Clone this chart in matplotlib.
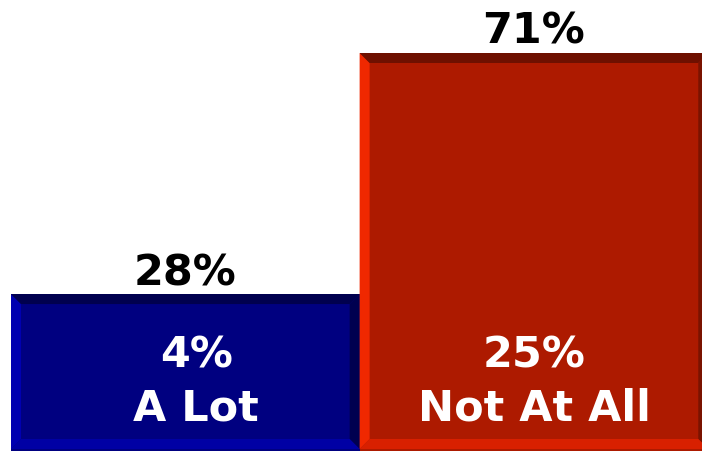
import matplotlib
matplotlib.use("Agg")
import matplotlib.pyplot as plt
from matplotlib.patches import Polygon
from matplotlib.transforms import IdentityTransform

categories = ["A Lot", "Not At All"]
totals = [28, 71]
inner = [4, 25]

face_colors = ["#000080", "#AD1A00"]
bevel_colors = [
    # left, top, right, bottom
    ["#0000B0", "#00004E", "#000050", "#0000A4"],
    ["#F02800", "#6E1000", "#7A1300", "#D82000"],
]

fig = plt.figure(figsize=(7.02, 4.51), dpi=100)
ax = fig.add_axes([11 / 702, 0, 1 - 11 / 702, 1])
x = [0, 1]
bars = ax.bar(x, totals, width=1.0, color=face_colors, linewidth=0)
ax.set_xlim(-0.5, 1.482)
ax.set_ylim(0, 71 * 451 / 398)
ax.axis("off")

fig.canvas.draw()
b = 10  # bevel size in pixels
for bar, cols in zip(bars, bevel_colors):
    x0, y0 = ax.transData.transform((bar.get_x(), 0))
    x1, y1 = ax.transData.transform((bar.get_x() + bar.get_width(), bar.get_height()))
    y0 += 2
    polys = [
        [(x0, y0), (x0 + b, y0 + b), (x0 + b, y1 - b), (x0, y1)],  # left
        [(x0, y1), (x0 + b, y1 - b), (x1 - b, y1 - b), (x1, y1)],  # top
        [(x1, y1), (x1 - b, y1 - b), (x1 - b, y0 + b), (x1, y0)],  # right
        [(x0, y0), (x0 + b, y0 + b), (x1 - b, y0 + b), (x1, y0)],  # bottom
    ]
    for p, c in zip(polys, cols):
        ax.add_patch(Polygon(p, closed=True, facecolor=c, edgecolor="none",
                             transform=IdentityTransform(), zorder=3))

inner_dx = [11, 0]
for xi, t, v, cat, dx in zip(x, totals, inner, categories, inner_dx):
    ax.annotate(f"{t}%", (xi, t), xytext=(0, 0), textcoords="offset points",
                ha="center", va="bottom", fontsize=31, fontweight="bold",
                color="black", family="DejaVu Sans")
    ax.annotate(f"{v}%\n{cat}", (xi, 12.3), xytext=(dx * 0.72, 0),
                textcoords="offset points", ha="center", va="center",
                fontsize=31, fontweight="bold", color="white", zorder=5,
                linespacing=1.33, family="DejaVu Sans")

fig.savefig("out.png", dpi=100)
